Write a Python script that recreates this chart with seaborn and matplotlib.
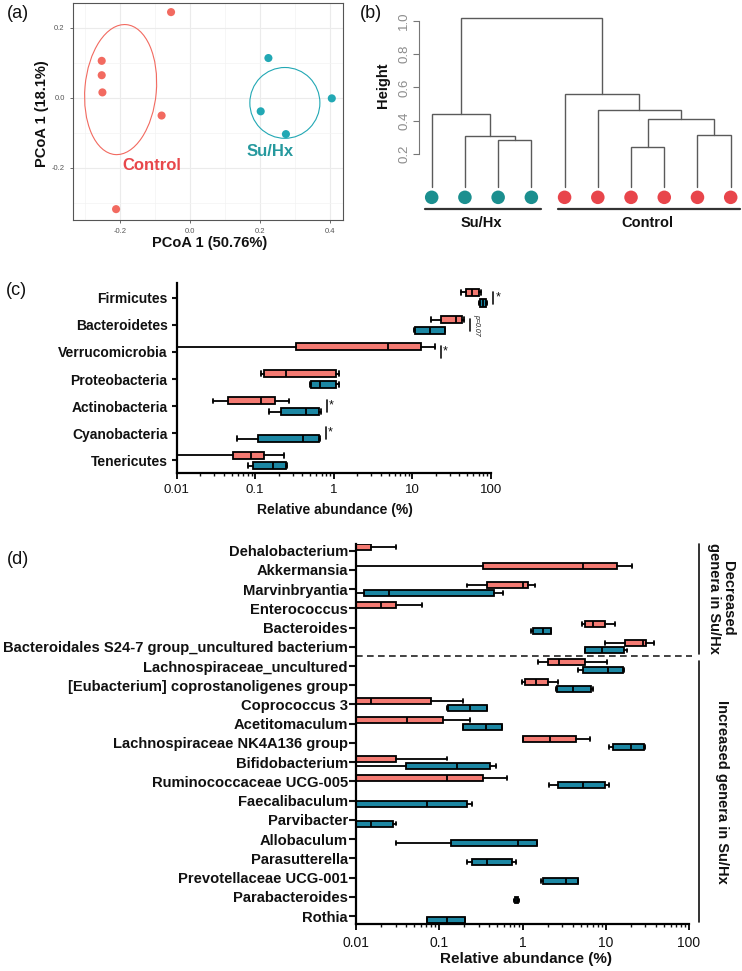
"""
Gut microbiota figure: PCoA, clustering dendrogram and abundance box plots.
"""

import matplotlib
matplotlib.use("Agg")
import matplotlib.pyplot as plt
import seaborn as sns
import pandas as pd
import numpy as np
from matplotlib.patches import Ellipse
from matplotlib.ticker import FixedLocator, LogLocator, NullFormatter

# ---------------- data ----------------
# (a) PCoA coordinates
pc1 = [-0.054, -0.252, -0.252, -0.250, -0.081, -0.211, 0.224, 0.202, 0.274, 0.405]
pc2 = [0.244, 0.105, 0.064, 0.015, -0.051, -0.318, 0.113, -0.039, -0.104, -0.002]
pcoa_group = ['Control'] * 6 + ['Su/Hx'] * 4
# ellipses: centre x, centre y, half width, half height, angle
ell_group = ['Control', 'Su/Hx']
ell_cx = [-0.198, 0.271]
ell_cy = [0.023, -0.015]
ell_a = [0.102, 0.100]
ell_b = [0.186, 0.101]
ell_angle = [-5, 0]

# (b) hierarchical clustering (leaves in display order)
leaf_group = ['Su/Hx'] * 4 + ['Control'] * 6
merge_left = [2, 1, 0, 6, 8, 13, 5, 4, 12]
merge_right = [3, 10, 11, 7, 9, 14, 15, 16, 17]
merge_height = [0.282, 0.306, 0.442, 0.240, 0.316, 0.408, 0.462, 0.562, 1.018]

# values at or below 0.01 % sit left of the axis
Z = 0.001

# (c) phylum level: (min, q1, median, q3, max), None = not shown
phyla = ['Firmicutes', 'Bacteroidetes', 'Verrucomicrobia', 'Proteobacteria',
         'Actinobacteria', 'Cyanobacteria', 'Tenericutes']
phyla_ctrl = [(42.3, 48.0, 58.3, 71.6, 74.5),
              (17.5, 23.5, 35.7, 43.4, 45.7),
              (Z, 0.333, 4.94, 13.0, 19.3),
              (0.119, 0.128, 0.246, 1.07, 1.16),
              (0.0294, 0.0448, 0.119, 0.180, 0.269),
              None,
              (Z, 0.0519, 0.0889, 0.131, 0.230)]
phyla_suhx = [(71.6, 72.4, 79.8, 88.1, 89.8),
              (10.5, 10.7, 17.1, 25.9, 26.4),
              None,
              (0.503, 0.514, 0.676, 1.07, 1.16),
              (0.149, 0.215, 0.448, 0.644, 0.689),
              (0.0594, 0.107, 0.402, 0.644, 0.662),
              (0.0798, 0.0925, 0.171, 0.249, 0.256)]
phyla_sig = ['*', 'p=0.07', '*', '', '*', '*', '']

# (d) genus level
genera = ['Dehalobacterium', 'Akkermansia', 'Marvinbryantia', 'Enterococcus',
          'Bacteroides', 'Bacteroidales S24-7 group_uncultured bacterium',
          'Lachnospiraceae_uncultured', '[Eubacterium] coprostanoligenes group',
          'Coprococcus 3', 'Acetitomaculum', 'Lachnospiraceae NK4A136 group',
          'Bifidobacterium', 'Ruminococcaceae UCG-005', 'Faecalibaculum',
          'Parvibacter', 'Allobaculum', 'Parasutterella', 'Prevotellaceae UCG-001',
          'Parabacteroides', 'Rothia']
genera_ctrl = [(Z, Z, Z, 0.0151, 0.0302),
               (Z, 0.337, 5.26, 13.7, 20.8),
               (0.213, 0.377, 1.02, 1.17, 1.42),
               (Z, Z, 0.0201, 0.0305, 0.0615),
               (5.12, 5.71, 7.06, 9.75, 12.9),
               (9.75, 16.9, 28.1, 30.8, 38.1),
               (1.52, 2.04, 2.74, 5.61, 10.4),
               (0.975, 1.07, 1.45, 2.0, 2.68),
               (Z, Z, 0.015, 0.0794, 0.194),
               (Z, Z, 0.0406, 0.112, 0.233),
               (1.0, 1.02, 2.13, 4.38, 6.44),
               (Z, Z, Z, 0.0302, 0.123),
               (Z, Z, 0.123, 0.337, 0.644),
               None, None, None, None, None, None, None]
genera_suhx = [None,
               None,
               (Z, 0.0125, 0.0249, 0.454, 0.586),
               None,
               (1.28, 1.34, 1.74, 2.19, 2.23),
               (5.6, 5.6, 9.05, 16.5, 18.1),
               (4.67, 5.36, 10.7, 16.2, 16.5),
               (2.52, 2.57, 3.99, 6.56, 7.06),
               (0.123, 0.127, 0.233, 0.37, 0.37),
               (0.194, 0.194, 0.363, 0.561, 0.561),
               (11.0, 12.3, 20.0, 28.6, 29.5),
               (Z, 0.0394, 0.164, 0.406, 0.48),
               (2.1, 2.69, 5.36, 9.75, 11.0),
               (Z, Z, 0.0705, 0.217, 0.249),
               (Z, Z, 0.015, 0.028, 0.0302),
               (0.0299, 0.137, 0.887, 1.48, 1.48),
               (0.213, 0.249, 0.37, 0.74, 0.834),
               (1.66, 1.77, 3.32, 4.67, 4.67),
               (0.80, 0.81, 0.85, 0.89, 0.90),
               (0.0705, 0.0705, 0.123, 0.203, 0.205)]
n_decreased = 6

abund_ticks = [0.01, 0.1, 1, 10, 100]
abund_ticklabels = ['0.01', '0.1', '1', '10', '100']

# ---------------- style ----------------
sns.set_style("ticks")
plt.rcParams['font.family'] = ['Liberation Sans', 'DejaVu Sans']
plt.rcParams['axes.unicode_minus'] = False

pcoa_pal = {'Control': '#F26A60', 'Su/Hx': '#22A8B4'}
pcoa_text = {'Control': '#E8474B', 'Su/Hx': '#26999E'}
leaf_pal = {'Control': '#E8454B', 'Su/Hx': '#1B8F8F'}
box_ctrl = '#F47A72'
box_suhx = '#1C87A3'

W, H = 742, 971
fig = plt.figure(figsize=(W / 100, H / 100), dpi=100)


def box_px(left, top, right, bottom):
    return [left / W, 1 - bottom / H, (right - left) / W, (bottom - top) / H]


def ftext(x, y, s, **kw):
    fig.text(x / W, 1 - y / H, s, **kw)


# ---------------- (a) PCoA ----------------
ax_a = fig.add_axes(box_px(73, 3, 343, 220))
pcoa = pd.DataFrame({'PC1': pc1, 'PC2': pc2, 'Group': pcoa_group})
sns.scatterplot(data=pcoa, x='PC1', y='PC2', hue='Group', palette=pcoa_pal,
                s=34, edgecolor='none', legend=False, ax=ax_a, zorder=3)
for g, cx, cy, a, b, ang in zip(ell_group, ell_cx, ell_cy, ell_a, ell_b, ell_angle):
    ax_a.add_patch(Ellipse((cx, cy), 2 * a, 2 * b, angle=ang, fill=False,
                           edgecolor=pcoa_pal[g], lw=0.8, zorder=2))
ax_a.set_xlim(-0.334, 0.437)
ax_a.set_ylim(-0.349, 0.27)
ax_a.set_xticks([-0.2, 0.0, 0.2, 0.4])
ax_a.set_yticks([-0.2, 0.0, 0.2])
ax_a.set_xticks([-0.3, -0.1, 0.1, 0.3], minor=True)
ax_a.set_yticks([-0.3, -0.1, 0.1], minor=True)
ax_a.grid(which='major', color='#EBEBEB', lw=0.8)
ax_a.grid(which='minor', color='#F3F3F3', lw=0.5)
ax_a.set_axisbelow(True)
for sp in ax_a.spines.values():
    sp.set_color('#555555')
    sp.set_linewidth(0.8)
ax_a.tick_params(which='major', labelsize=5.5, colors='#555555', length=2.5, width=0.6)
ax_a.tick_params(which='minor', length=0)
ax_a.set_xlabel('')
ax_a.set_ylabel('')
ax_a.text(-0.108, -0.194, 'Control', color=pcoa_text['Control'], fontsize=12,
          fontweight='bold', ha='center', va='center')
ax_a.text(0.229, -0.153, 'Su/Hx', color=pcoa_text['Su/Hx'], fontsize=12,
          fontweight='bold', ha='center', va='center')
ftext(209.5, 243, 'PCoA 1 (50.76%)', fontsize=10.5, fontweight='bold',
      ha='center', va='center', color='#111111')
ftext(42, 113.5, 'PCoA 1 (18.1%)', fontsize=10.5, fontweight='bold',
      ha='center', va='center', rotation=90, color='#111111')

# ---------------- (b) dendrogram ----------------
ax_b = fig.add_axes(box_px(419.3, 10, 742, 240))
leaf_x = np.arange(1, len(leaf_group) + 1)
node_x = {i: x for i, x in enumerate(leaf_x)}
node_h = {i: 0.0 for i in range(len(leaf_group))}
for k, (l, r, h) in enumerate(zip(merge_left, merge_right, merge_height)):
    xl, xr = node_x[l], node_x[r]
    ax_b.plot([xl, xl, xr, xr], [node_h[l], h, h, node_h[r]],
              color='#5A5A5A', lw=1.0, solid_joinstyle='miter')
    node_x[len(leaf_group) + k] = (xl + xr) / 2
    node_h[len(leaf_group) + k] = h

dot_level = -0.06
leaves = pd.DataFrame({'x': leaf_x, 'y': dot_level, 'Group': leaf_group})
sns.scatterplot(data=leaves, x='x', y='y', hue='Group', palette=leaf_pal, s=95,
                edgecolor='none', legend=False, ax=ax_b, clip_on=False, zorder=3)
bar_level, lab_level = -0.132, -0.216
for g in ['Su/Hx', 'Control']:
    idx = leaf_x[np.array(leaf_group) == g]
    ax_b.plot([idx.min() - 0.2, idx.max() + 0.28], [bar_level, bar_level],
              color='#333333', lw=1.6, clip_on=False)
    ax_b.text(idx.mean(), lab_level, g, ha='center', va='center', fontsize=10.5,
              fontweight='bold', color='#111111')

ax_b.set_xlim(0.627, 10.34)
ax_b.set_ylim(-0.316, 1.064)
for s in ['top', 'right', 'bottom']:
    ax_b.spines[s].set_visible(False)
ax_b.spines['left'].set_bounds(0.2, 1.0)
ax_b.spines['left'].set_color('#777777')
ax_b.spines['left'].set_linewidth(0.8)
ax_b.set_xticks([])
ax_b.set_yticks([0.2, 0.4, 0.6, 0.8, 1.0])
ax_b.set_yticklabels(['0.2', '0.4', '0.6', '0.8', '1.0'])
ax_b.tick_params(axis='y', labelsize=9.5, labelcolor='#8C8C8C', color='#777777',
                 length=4, width=0.8, pad=2.5, labelrotation=90)
for t in ax_b.get_yticklabels():
    t.set_va('center')
ax_b.set_xlabel('')
ax_b.set_ylabel('')
ftext(383, 85, 'Height', fontsize=10.5, fontweight='bold', rotation=90,
      ha='center', va='center', color='#111111')


# ---------------- helpers for box panels ----------------
def stat_dict(s):
    return dict(whislo=s[0], q1=s[1], med=s[2], q3=s[3], whishi=s[4], fliers=[])


def draw_boxes(ax, names, ctrl, suhx, offset, width, capw, lw):
    for stats, sign, color in [(ctrl, -1, box_ctrl), (suhx, 1, box_suhx)]:
        pos = [i + sign * offset for i, s in enumerate(stats) if s is not None]
        data = [stat_dict(s) for s in stats if s is not None]
        ax.bxp(data, positions=pos, widths=width, orientation='horizontal',
               patch_artist=True, showfliers=False, manage_ticks=False,
               capwidths=capw,
               boxprops=dict(facecolor=color, edgecolor='black', linewidth=lw),
               medianprops=dict(color='black', linewidth=lw),
               whiskerprops=dict(color='black', linewidth=lw),
               capprops=dict(color='black', linewidth=lw))
    ax.set_xscale('log')
    ax.set_xlim(abund_ticks[0], abund_ticks[-1])
    ax.set_ylim(len(names) - 0.55, -0.53)
    ax.xaxis.set_major_locator(FixedLocator(abund_ticks))
    ax.set_xticklabels(abund_ticklabels)
    ax.xaxis.set_minor_locator(LogLocator(base=10, subs=np.arange(2, 10)))
    ax.xaxis.set_minor_formatter(NullFormatter())
    ax.set_yticks(range(len(names)))
    ax.set_yticklabels(names, fontweight='bold')
    for s in ['top', 'right']:
        ax.spines[s].set_visible(False)
    for s in ['left', 'bottom']:
        ax.spines[s].set_linewidth(1.6)
        ax.spines[s].set_color('black')
    ax.set_xlabel('')
    ax.set_ylabel('')


# ---------------- (c) phyla ----------------
ax_c = fig.add_axes(box_px(176.7, 283.3, 490.7, 472.7))
draw_boxes(ax_c, phyla, phyla_ctrl, phyla_suhx, 0.195, 0.26, 0.17, 1.3)
ax_c.set_ylim(6.45, -0.53)
ax_c.tick_params(axis='y', labelsize=10, length=3.6, width=1.5, pad=3, colors='#111111')
ax_c.tick_params(axis='x', which='major', labelsize=9.5, length=4.2, width=1.4,
                 pad=4, colors='#111111')
ax_c.tick_params(axis='x', which='minor', length=2.4, width=1.0, colors='#111111')
for i, sig in enumerate(phyla_sig):
    if not sig:
        continue
    top = max(s[4] for s in (phyla_ctrl[i], phyla_suhx[i]) if s is not None)
    bx = top * 1.2
    ax_c.plot([bx, bx], [i - 0.22, i + 0.22], color='#111111', lw=1.2, clip_on=False)
    if sig == '*':
        ax_c.text(bx * 1.06, i - 0.02, '*', fontsize=9, ha='left', va='center',
                  color='#111111')
    else:
        ax_c.text(bx * 1.1, i, sig, fontsize=5, style='italic', rotation=-90,
                  ha='left', va='center', color='#111111')
ftext(335, 510, 'Relative abundance (%)', fontsize=10, fontweight='bold',
      ha='center', va='center', color='#111111')

# ---------------- (d) genera ----------------
ax_d = fig.add_axes(box_px(356, 544.3, 689, 924.3))
draw_boxes(ax_d, genera, genera_ctrl, genera_suhx, 0.19, 0.31, 0.2, 1.3)
ax_d.set_ylim(19.43, -0.33)
ax_d.tick_params(axis='y', labelsize=10.6, length=4.8, width=1.5, pad=1, colors='#111111')
ax_d.tick_params(axis='x', which='major', labelsize=10, length=4.2, width=1.4,
                 pad=4, colors='#111111')
ax_d.tick_params(axis='x', which='minor', length=2.4, width=1.0, colors='#111111')
yx = ax_d.get_yaxis_transform()
ax_d.plot([0, 1.008], [n_decreased - 0.5] * 2, transform=yx, color='#222222',
          lw=1.2, ls=(0, (4, 2.6)), clip_on=False)
ax_d.plot([1.031, 1.031], [-0.33, n_decreased - 0.6], transform=yx,
          color='#111111', lw=1.2, clip_on=False)
ax_d.plot([1.031, 1.031], [n_decreased - 0.28, len(genera) - 0.7], transform=yx,
          color='#111111', lw=1.2, clip_on=False)
ftext(721, 598, 'Decreased\ngenera in Su/Hx', fontsize=10.5, fontweight='bold',
      rotation=-90, ha='center', va='center', multialignment='center',
      linespacing=1.05, color='#111111')
ftext(721.7, 791.7, 'Increased genera in Su/Hx', fontsize=10.5, fontweight='bold',
      rotation=-90, ha='center', va='center', color='#111111')
ftext(525.5, 959, 'Relative abundance (%)', fontsize=11, fontweight='bold',
      ha='center', va='center', color='#111111')

# ---------------- panel letters ----------------
for lab, x, y in [('(a)', 18, 13.5), ('(b)', 370.5, 13.5), ('(c)', 16.7, 290.8),
                  ('(d)', 18, 559)]:
    ftext(x, y, lab, fontsize=13, ha='center', va='center', color='#111111')

plt.savefig('out.png', dpi=100)
plt.close()
